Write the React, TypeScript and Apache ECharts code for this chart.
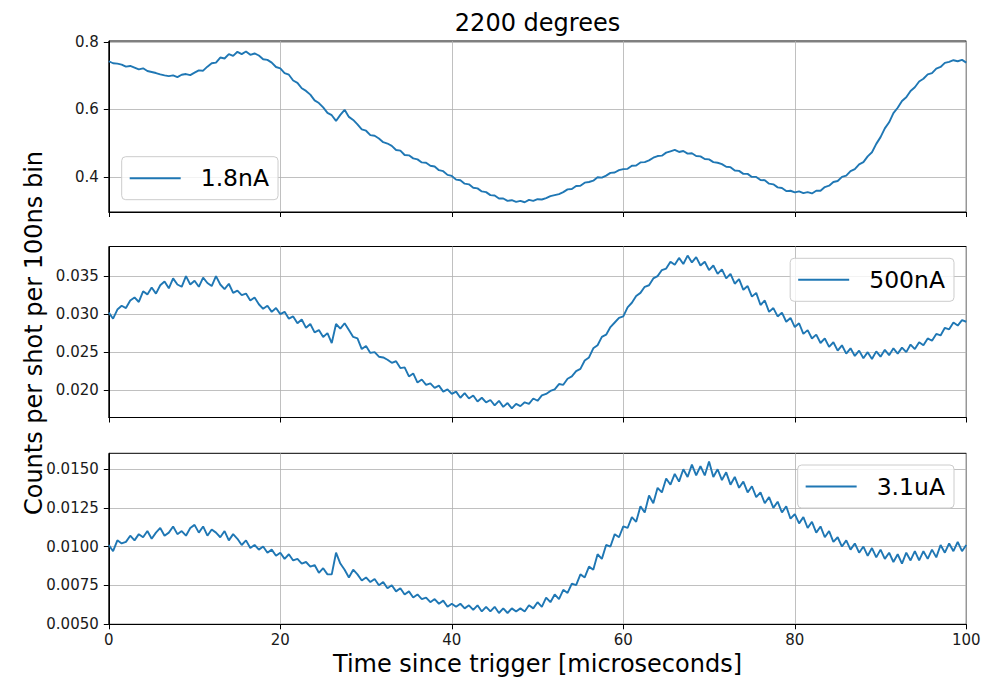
import React, { useEffect, useRef } from "react";
import * as echarts from "echarts";

// Sampling grid: one value every 0.5 microseconds from 0 to 100
const TIME_STEP = 0.5;
const SAMPLE_COUNT = 201;
const TIME: number[] = Array.from({ length: SAMPLE_COUNT }, (_, i) => i * TIME_STEP);

const SERIES_NAMES = ["1.8nA", "500nA", "3.1uA"];

const COUNTS_1_8NA = [
  0.743, 0.737, 0.736, 0.733, 0.727, 0.729, 0.724, 0.719, 0.722, 0.714,
  0.711, 0.708, 0.704, 0.701, 0.699, 0.701, 0.696, 0.703, 0.705, 0.702,
  0.709, 0.716, 0.715, 0.727, 0.737, 0.739, 0.754, 0.751, 0.764, 0.759,
  0.771, 0.764, 0.772, 0.762, 0.766, 0.760, 0.749, 0.747, 0.739, 0.726,
  0.722, 0.708, 0.703, 0.686, 0.679, 0.663, 0.655, 0.644, 0.627, 0.619,
  0.606, 0.590, 0.583, 0.566, 0.584, 0.599, 0.578, 0.569, 0.556, 0.541,
  0.537, 0.524, 0.522, 0.514, 0.503, 0.499, 0.492, 0.480, 0.478, 0.465,
  0.464, 0.455, 0.452, 0.443, 0.442, 0.433, 0.431, 0.420, 0.417, 0.406,
  0.403, 0.392, 0.390, 0.380, 0.378, 0.368, 0.366, 0.357, 0.355, 0.346,
  0.345, 0.336, 0.336, 0.329, 0.331, 0.326, 0.329, 0.325, 0.332, 0.329,
  0.334, 0.333, 0.337, 0.343, 0.346, 0.349, 0.355, 0.363, 0.364, 0.373,
  0.374, 0.383, 0.385, 0.389, 0.399, 0.398, 0.404, 0.412, 0.413, 0.420,
  0.423, 0.424, 0.433, 0.434, 0.443, 0.444, 0.449, 0.457, 0.462, 0.463,
  0.472, 0.476, 0.480, 0.474, 0.477, 0.469, 0.470, 0.462, 0.461, 0.453,
  0.452, 0.444, 0.442, 0.438, 0.430, 0.429, 0.419, 0.418, 0.409, 0.409,
  0.400, 0.400, 0.391, 0.390, 0.380, 0.378, 0.369, 0.367, 0.358, 0.359,
  0.354, 0.357, 0.352, 0.355, 0.351, 0.359, 0.359, 0.370, 0.374, 0.385,
  0.388, 0.400, 0.404, 0.417, 0.423, 0.437, 0.444, 0.461, 0.473, 0.498,
  0.518, 0.544, 0.562, 0.589, 0.605, 0.625, 0.636, 0.655, 0.666, 0.683,
  0.691, 0.704, 0.708, 0.721, 0.726, 0.738, 0.741, 0.746, 0.743, 0.747,
  0.739,
];

const COUNTS_500NA = [
  0.0302, 0.0294, 0.0306, 0.0311, 0.0308, 0.0318, 0.0322, 0.0316, 0.0330, 0.0326,
  0.0335, 0.0327, 0.0338, 0.0343, 0.0334, 0.0347, 0.0339, 0.0336, 0.0350, 0.0339,
  0.0344, 0.0336, 0.0348, 0.0341, 0.0337, 0.0350, 0.0339, 0.0333, 0.0340, 0.0328,
  0.0331, 0.0325, 0.0327, 0.0318, 0.0322, 0.0313, 0.0307, 0.0311, 0.0303, 0.0308,
  0.0300, 0.0303, 0.0294, 0.0297, 0.0288, 0.0293, 0.0282, 0.0287, 0.0276, 0.0279,
  0.0270, 0.0275, 0.0262, 0.0287, 0.0281, 0.0288, 0.0279, 0.0270, 0.0268, 0.0254,
  0.0258, 0.0249, 0.0250, 0.0244, 0.0243, 0.0240, 0.0236, 0.0238, 0.0229, 0.0230,
  0.0218, 0.0222, 0.0210, 0.0214, 0.0207, 0.0209, 0.0203, 0.0206, 0.0198, 0.0201,
  0.0195, 0.0198, 0.0190, 0.0196, 0.0189, 0.0193, 0.0185, 0.0190, 0.0184, 0.0187,
  0.0180, 0.0186, 0.0178, 0.0183, 0.0176, 0.0182, 0.0179, 0.0184, 0.0182, 0.0189,
  0.0186, 0.0193, 0.0195, 0.0199, 0.0201, 0.0208, 0.0207, 0.0215, 0.0218, 0.0225,
  0.0228, 0.0239, 0.0243, 0.0255, 0.0259, 0.0270, 0.0273, 0.0283, 0.0289, 0.0295,
  0.0297, 0.0309, 0.0315, 0.0324, 0.0328, 0.0336, 0.0338, 0.0347, 0.0350, 0.0358,
  0.0360, 0.0369, 0.0365, 0.0374, 0.0366, 0.0377, 0.0368, 0.0375, 0.0364, 0.0369,
  0.0358, 0.0364, 0.0353, 0.0359, 0.0347, 0.0353, 0.0340, 0.0346, 0.0332, 0.0337,
  0.0323, 0.0328, 0.0312, 0.0318, 0.0303, 0.0308, 0.0297, 0.0302, 0.0290, 0.0295,
  0.0283, 0.0288, 0.0274, 0.0279, 0.0268, 0.0273, 0.0262, 0.0268, 0.0257, 0.0263,
  0.0252, 0.0259, 0.0248, 0.0255, 0.0245, 0.0252, 0.0242, 0.0250, 0.0241, 0.0251,
  0.0244, 0.0253, 0.0246, 0.0255, 0.0248, 0.0256, 0.0250, 0.0260, 0.0254, 0.0263,
  0.0259, 0.0268, 0.0265, 0.0274, 0.0272, 0.0282, 0.0280, 0.0289, 0.0285, 0.0292,
  0.0290,
];

const COUNTS_3_1UA = [
  0.0101, 0.0097, 0.0104, 0.0102, 0.0103, 0.0107, 0.0104, 0.0108, 0.0106, 0.0110,
  0.0105, 0.0109, 0.0112, 0.0107, 0.0109, 0.0113, 0.0108, 0.0110, 0.0107, 0.0112,
  0.0114, 0.0109, 0.0113, 0.0107, 0.0111, 0.0109, 0.0106, 0.0110, 0.0104, 0.0108,
  0.0105, 0.0101, 0.0104, 0.0099, 0.0101, 0.0098, 0.0100, 0.0096, 0.0098, 0.0094,
  0.0096, 0.0092, 0.0095, 0.0091, 0.0092, 0.0089, 0.0090, 0.0087, 0.0088, 0.0083,
  0.0086, 0.0082, 0.0082, 0.0096, 0.0089, 0.0085, 0.0080, 0.0085, 0.0082, 0.0078,
  0.0080, 0.0077, 0.0079, 0.0075, 0.0077, 0.0073, 0.0075, 0.0071, 0.0073, 0.0069,
  0.0071, 0.0067, 0.0069, 0.0066, 0.0067, 0.0064, 0.0066, 0.0063, 0.0065, 0.0061,
  0.0063, 0.0061, 0.0063, 0.0060, 0.0062, 0.0059, 0.0062, 0.0058, 0.0061, 0.0058,
  0.0061, 0.0057, 0.0060, 0.0057, 0.0060, 0.0058, 0.0060, 0.0058, 0.0062, 0.0060,
  0.0064, 0.0061, 0.0067, 0.0064, 0.0069, 0.0066, 0.0072, 0.0070, 0.0076, 0.0075,
  0.0082, 0.0080, 0.0087, 0.0085, 0.0095, 0.0092, 0.0101, 0.0100, 0.0108, 0.0106,
  0.0113, 0.0112, 0.0119, 0.0116, 0.0126, 0.0122, 0.0133, 0.0128, 0.0138, 0.0135,
  0.0144, 0.0140, 0.0147, 0.0142, 0.0150, 0.0145, 0.0153, 0.0146, 0.0152, 0.0146,
  0.0155, 0.0145, 0.0150, 0.0143, 0.0148, 0.0140, 0.0145, 0.0138, 0.0142, 0.0135,
  0.0139, 0.0132, 0.0135, 0.0128, 0.0132, 0.0125, 0.0129, 0.0122, 0.0126, 0.0118,
  0.0121, 0.0115, 0.0119, 0.0112, 0.0116, 0.0109, 0.0113, 0.0106, 0.0110, 0.0103,
  0.0106, 0.0100, 0.0104, 0.0098, 0.0102, 0.0096, 0.0100, 0.0094, 0.0099, 0.0093,
  0.0098, 0.0092, 0.0096, 0.0090, 0.0095, 0.0089, 0.0096, 0.0091, 0.0097, 0.0091,
  0.0097, 0.0092, 0.0098, 0.0093, 0.0101, 0.0096, 0.0102, 0.0097, 0.0103, 0.0097,
  0.0101,
];

const SERIES_VALUES = [COUNTS_1_8NA, COUNTS_500NA, COUNTS_3_1UA];

const Y_TICKS_1 = [0.4, 0.6, 0.8];
const Y_TICKS_2 = [0.02, 0.025, 0.03, 0.035];
const Y_TICKS_3 = [0.005, 0.0075, 0.01, 0.0125, 0.015];
const Y_TICKS = [Y_TICKS_1, Y_TICKS_2, Y_TICKS_3];
const Y_DECIMALS = [1, 3, 4];
const Y_RANGES: [number, number][] = [
  [0.296, 0.803],
  [0.0164, 0.0389],
  [0.00497, 0.01603],
];
const X_MIN = 0;
const X_MAX = 100;
const X_INTERVAL = 20;

const TITLE = "2200 degrees";
const X_LABEL = "Time since trigger [microseconds]";
const Y_LABEL = "Counts per shot per 100ns bin";

const FONT = "DejaVu Sans";
const LINE_COLOR = "#1f77b4";
const GRID_COLOR = "#b0b0b0";

const GRID_TOPS = [41, 246.5, 453.3];
const GRID_LEFT = 108.8;
const GRID_WIDTH = 857.5;
const GRID_HEIGHT = 171;

export default function App() {
  const ref = useRef<HTMLDivElement>(null);

  useEffect(() => {
    document.body.style.margin = "0";
    if (!ref.current) return;
    const chart = echarts.init(ref.current, undefined, { renderer: "svg" });

    const grid = GRID_TOPS.map((top) => ({
      left: GRID_LEFT,
      top,
      width: GRID_WIDTH,
      height: GRID_HEIGHT,
      show: true,
      borderColor: "#000",
      borderWidth: 1,
      backgroundColor: "transparent",
      containLabel: false,
    }));

    const xAxis = GRID_TOPS.map((_, i) => ({
      type: "value",
      gridIndex: i,
      min: X_MIN,
      max: X_MAX,
      interval: X_INTERVAL,
      axisLine: { show: true, lineStyle: { color: "#000", width: 1 } },
      axisTick: { show: true, inside: false, length: 5, lineStyle: { color: "#000", width: 1 } },
      axisLabel: {
        show: i === 2,
        fontSize: 15,
        fontFamily: FONT,
        color: "#1a1a1a",
        margin: 8,
      },
      splitLine: { show: true, lineStyle: { color: GRID_COLOR, width: 0.8 } },
    }));

    const yAxis = GRID_TOPS.map((_, i) => ({
      type: "value",
      gridIndex: i,
      min: Y_RANGES[i][0],
      max: Y_RANGES[i][1],
      axisLine: { show: true, lineStyle: { color: "#000", width: 1 } },
      axisTick: {
        show: true,
        inside: false,
        length: 5,
        customValues: Y_TICKS[i],
        lineStyle: { color: "#000", width: 1 },
      },
      axisLabel: {
        show: true,
        customValues: Y_TICKS[i],
        fontSize: 15,
        fontFamily: FONT,
        color: "#1a1a1a",
        margin: 10,
        formatter: (v: number) => v.toFixed(Y_DECIMALS[i]),
      },
      splitLine: { show: true, lineStyle: { color: GRID_COLOR, width: 0.8 } },
    }));

    const series = SERIES_NAMES.map((name, i) => ({
      name,
      type: "line",
      xAxisIndex: i,
      yAxisIndex: i,
      showSymbol: false,
      symbol: "none",
      data: TIME.map((t, k) => [t, SERIES_VALUES[i][k]]),
      lineStyle: { color: LINE_COLOR, width: 1.9 },
      itemStyle: { color: LINE_COLOR },
      emphasis: { disabled: true },
    }));

    const legendCommon = {
      orient: "horizontal",
      icon: "rect",
      itemWidth: 51,
      itemHeight: 2,
      padding: [9, 9, 9, 8],
      backgroundColor: "rgba(255,255,255,0.8)",
      borderColor: "#cccccc",
      borderWidth: 1,
      borderRadius: 4,
      selectedMode: false,
      textStyle: {
        fontSize: 23.5,
        fontFamily: FONT,
        color: "#000",
        lineHeight: 25,
        padding: [0, 0, 0, 15],
      },
    };

    const legend = [
      { ...legendCommon, data: [SERIES_NAMES[0]], left: 121.7, top: 156.7 },
      { ...legendCommon, data: [SERIES_NAMES[1]], right: 43, top: 258.3 },
      { ...legendCommon, data: [SERIES_NAMES[2]], right: 43, top: 465 },
    ];

    const textStyle = (text: string) => ({
      text,
      fontSize: 24,
      fontFamily: FONT,
      fill: "#000",
      align: "center",
      verticalAlign: "middle",
    });

    chart.setOption({
      animation: false,
      backgroundColor: "#fff",
      grid,
      xAxis,
      yAxis,
      series,
      legend,
      graphic: [
        { type: "text", x: 537.5, y: 23, style: textStyle(TITLE) },
        { type: "text", x: 537.5, y: 664, style: textStyle(X_LABEL) },
        { type: "text", x: 34, y: 333, rotation: Math.PI / 2, style: textStyle(Y_LABEL) },
      ],
    });

    return () => chart.dispose();
  }, []);

  return <div ref={ref} style={{ width: 997, height: 683 }} />;
}
